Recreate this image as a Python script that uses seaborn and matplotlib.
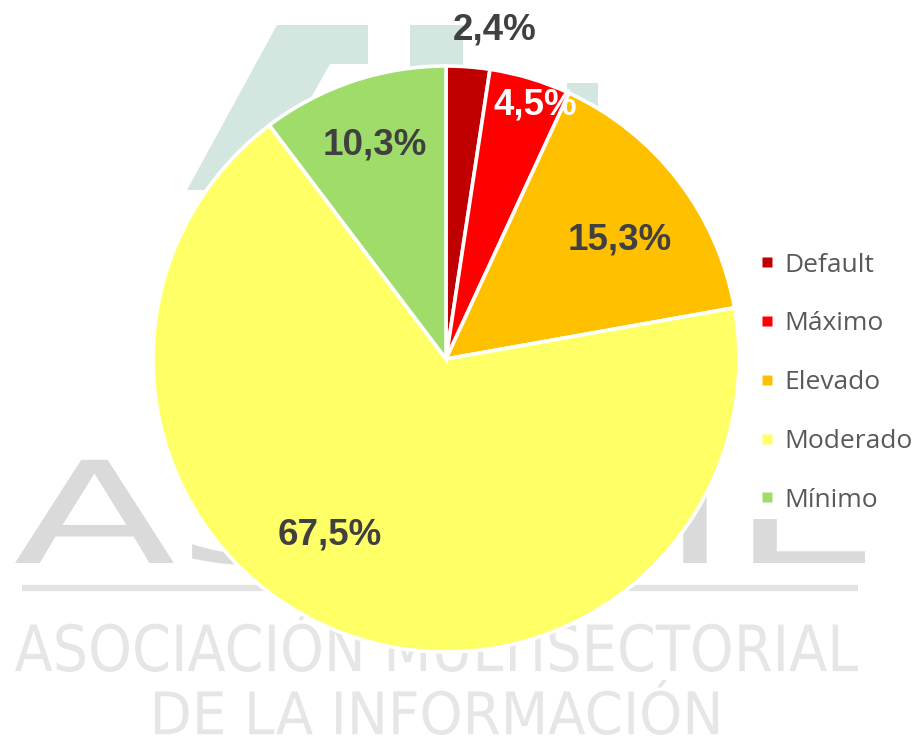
import matplotlib
matplotlib.use("Agg")
import matplotlib.pyplot as plt
import seaborn as sns
from matplotlib.lines import Line2D
from matplotlib.patches import Polygon, PathPatch
from matplotlib.textpath import TextPath
from matplotlib.font_manager import FontProperties
from matplotlib.transforms import Affine2D

# chart data
categories = ["Default", "Máximo", "Elevado", "Moderado", "Mínimo"]
shares = [2.4, 4.5, 15.3, 67.5, 10.3]
label_texts = ["2,4%", "4,5%", "15,3%", "67,5%", "10,3%"]
slice_colors = ["#C00000", "#FF0000", "#FFC000", "#FFFF66", "#A0DC6A"]
label_colors = ["#404040", "#FFFFFF", "#404040", "#404040", "#404040"]
# where the percentage labels sit, in pie radius units
label_pos = [(0.167, 1.123), (0.304, 0.867), (0.594, 0.406), (-0.396, -0.601), (-0.242, 0.730)]

sns.set_theme(style="white")
plt.rcParams["font.family"] = ["Liberation Sans", "DejaVu Sans"]

W, H = 913, 740
fig = plt.figure(figsize=(W / 100, H / 100), dpi=100)
fig.patch.set_facecolor("white")

# background watermark (logo), drawn in pixel coordinates
bg = fig.add_axes([0, 0, 1, 1], zorder=0)
bg.set_xlim(0, W)
bg.set_ylim(H, 0)
bg.set_axis_off()


def fit_text(ax, s, x0, y0, x1, y1, color, weight="normal", family="DejaVu Sans"):
    tp = TextPath((0, 0), s, size=100, prop=FontProperties(family=family, weight=weight))
    bb = tp.get_extents()
    tr = (Affine2D().translate(-bb.x0, -bb.y0)
          .scale((x1 - x0) / bb.width, -(y1 - y0) / bb.height)
          .translate(x0, y1))
    ax.add_patch(PathPatch(tr.transform_path(tp), fc=color, ec="none", lw=0))


teal = "#D3E6E0"
bg.add_patch(Polygon([(277, 25), (368, 25), (368, 64), (330, 64), (259, 190), (187, 190)],
                     closed=True, fc=teal, ec="none"))
bg.add_patch(Polygon([(410, 25), (463, 25), (463, 75), (410, 75)], closed=True, fc=teal, ec="none"))
bg.add_patch(Polygon([(567, 83), (598, 83), (598, 110), (567, 110)], closed=True, fc=teal, ec="none"))

fit_text(bg, "ASEDIE", 15, 458, 865, 565, "#DADADA", weight="normal")
bg.plot([22, 858], [588, 588], color="#E3E3E3", lw=4.5, solid_capstyle="butt")
fit_text(bg, "ASOCIACIÓN MULTISECTORIAL", 15, 612, 858, 672, "#E6E6E6", weight="normal")
fit_text(bg, "DE LA INFORMACIÓN", 155, 680, 718, 735, "#E6E6E6", weight="normal")

# pie
cx, cy, r = 446, 359, 293
ax = fig.add_axes([(cx - r) / W, 1 - (cy + r) / H, 2 * r / W, 2 * r / H], zorder=1)
ax.patch.set_alpha(0)
wedges, _ = ax.pie(shares, colors=sns.color_palette(slice_colors), startangle=90,
                   counterclock=False, radius=1,
                   wedgeprops=dict(edgecolor="white", linewidth=2.6))
for w in wedges:
    w.set_clip_on(False)
ax.set_xlim(-1, 1)
ax.set_ylim(-1, 1)
ax.set_aspect("equal")

for txt, (lx, ly), c in zip(label_texts, label_pos, label_colors):
    ax.text(lx, ly, txt, ha="center", va="center", fontsize=26.5,
            fontweight="bold", color=c, family=["Liberation Sans", "DejaVu Sans"])

handles = [Line2D([], [], marker="s", linestyle="none", markersize=7.8,
                  markerfacecolor=c, markeredgecolor="none") for c in slice_colors]
leg = fig.legend(handles, categories, loc="upper left",
                 bbox_to_anchor=(753 / W, 1 - 246 / H),
                 frameon=True, facecolor="white", edgecolor="none", framealpha=1,
                 fancybox=False, borderpad=0.25, handlelength=0.55, handletextpad=0.4,
                 labelspacing=1.28, borderaxespad=0,
                 prop=FontProperties(family="Open Sans", size=19))
for t in leg.get_texts():
    t.set_color("#595959")
leg.set_zorder(3)

fig.savefig("out.png", dpi=100, facecolor="white")
